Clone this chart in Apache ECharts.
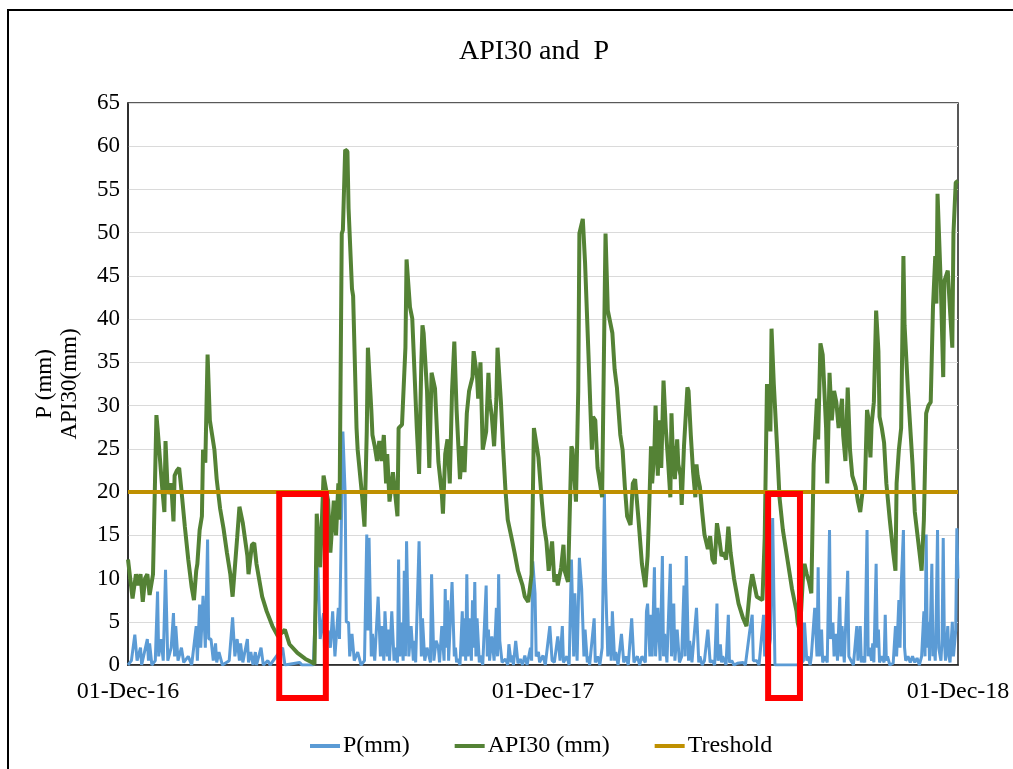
<!DOCTYPE html>
<html>
<head>
<meta charset="utf-8">
<title>API30 and P</title>
<script src="https://cdn.jsdelivr.net/npm/echarts@6/dist/echarts.min.js"></script>
<style>
  html, body { margin: 0; padding: 0; background: #fff; }
  #chart { width: 1013px; height: 769px; }
</style>
</head>
<body>
<div id="chart"></div>
<script>
// Day offsets are counted from 01-Dec-2016 (day 0) to 01-Dec-2018 (day 730).
const tickLabels = ['01-Dec-16', '01-Dec-17', '01-Dec-18'];
const dayRange = [0, 730];
const thresholdValue = 20;

// Highlighted dry spells [startDay, endDay]
const highlightPeriods = [[133, 174], [563, 591]];

// Daily precipitation P (mm): [day, mm]
const precipitation = [
  [0,0],[3,0.5],[6,3.5],[8,0.5],[11,2],[12,0],[17,3],[18,0.5],[19,2.5],[21,0],[24,0.5],[26,8.5],[27,1],[29,3],[31,0.5],
  [33,11],[35,0.5],[38,2],[40,6],[41,1],[42,4.5],[44,0.5],[47,2],[49,0.3],[53,1],[56,0],[60,4.5],[61,0.5],[63,7],[64,2],
  [66,8],[68,2],[70,14.5],[71,3],[73,3],[75,0.5],[77,2.5],[78,0.3],[80,1.5],[83,0],[89,0.5],[92,5.5],[94,1],[96,3],[98,0.5],
  [99,2.5],[101,0.3],[105,3],[106,0.3],[108,1.5],[110,0],[112,1.5],[113,0],[117,2],[119,0],[123,0.5],[125,0],[136,2],[138,0],
  [151,0.3],[153,0],[163,0],[165,7],[167,11.3],[169,3],[172,6],[173,1],[176,4],[178,2],[180,6.2],[182,1],[185,6.6],[186,3],
  [189,27],[191,19.8],[192,5],[194,4.9],[195,1],[197,3.6],[199,0.5],[202,1.5],[205,0],[208,0.5],[210,15.1],[211,4],[212,14.7],
  [214,1],[215,3.6],[217,0.5],[220,7.9],[222,1],[223,4.5],[225,0.5],[226,6.2],[228,1],[229,4.1],[230,0.5],[232,6.2],[234,0.5],
  [235,2],[237,0.3],[238,12.2],[239,1],[240,4.9],[242,0.5],[243,10.9],[244,1],[245,14.3],[247,1],[249,4.5],[251,0.5],[252,2.8],
  [253,0.3],[256,14.3],[258,1],[259,5.4],[261,0.5],[263,2],[266,0.3],[267,10.5],[269,0.5],[271,2.8],[273,2],[274,0.3],[276,4.5],
  [278,0.5],[279,8.8],[280,2],[281,7.5],[282,0.5],[285,9.6],[287,1],[288,2],[289,0.3],[290,0.7],[292,0],[294,6.2],[295,1],
  [296,5.4],[297,0.5],[298,10.5],[299,1],[300,5.4],[302,0.5],[303,7.5],[304,2],[305,9.6],[306,1],[307,5.4],[309,0.3],[310,1.1],
  [312,0],[315,9.2],[316,1],[317,4.1],[318,0.5],[320,3.3],[322,0.5],[324,6.6],[325,1],[326,10.5],[327,2.8],[329,0.3],[332,0.7],
  [334,0],[335,2.4],[337,0.3],[338,1.1],[339,0],[341,2.8],[343,0.2],[345,0.7],[347,0],[349,1.1],[351,0],[354,2],[355,0.5],
  [356,12],[358,8.3],[359,1],[361,1.5],[362,0.3],[365,1.1],[367,0],[371,4.5],[373,0.5],[375,0.3],[378,3.3],[380,0.5],[382,4.5],
  [383,0.3],[386,1],[388,0],[390,12.2],[392,1],[393,8.3],[395,0.5],[397,12.4],[399,8.8],[401,1],[402,4.1],[404,0.3],[405,1],
  [406,0],[410,5.4],[411,0.3],[413,1],[415,0],[417,2],[419,19.8],[420,10],[421,5.4],[422,1],[424,4.5],[425,0.5],[426,6.2],
  [428,0.5],[429,1.5],[431,0],[434,3.6],[436,0.3],[438,1],[440,0],[443,5.4],[445,0.3],[448,1],[450,0],[452,1],[455,0.3],
  [456,6.2],[457,7.1],[459,1],[460,5.8],[461,1],[463,11.3],[464,1],[466,6.6],[468,0.5],[470,12.6],[471,1],[472,3.6],[474,0.3],
  [477,11.7],[478,1],[480,7.1],[481,0.5],[483,4.1],[485,0.3],[487,1],[489,9.2],[490,1],[491,12.6],[493,0.5],[494,2.8],[496,0.3],
  [500,6.6],[502,0.3],[503,1],[505,0],[507,0.5],[510,4.1],[512,0.3],[514,0.5],[516,0],[518,7.1],[519,0.5],[521,2.4],[522,0.3],
  [523,1],[526,0],[528,5.8],[529,0.3],[531,0.5],[533,0],[536,0.2],[541,0.3],[543,0],[547,4.1],[549,5.8],[550,0.5],[553,0.5],
  [555,0],[559,5.8],[560,1],[561,2],[562,0.3],[565,3],[567,17],[569,0],[591,0],[594,0.5],[595,4.9],[597,0.5],[598,1],[600,0],
  [601,1],[604,6.6],[606,1],[607,11.3],[608,1],[610,4.1],[611,0.3],[613,1],[615,0.3],[617,15.6],[618,3],[620,4.9],[621,1],
  [623,3.6],[624,0.5],[626,7.9],[627,1],[628,4.5],[630,0.3],[633,10.9],[634,1],[636,0.5],[638,0],[641,4.5],[642,0.5],[644,4.5],
  [645,0.3],[646,1],[648,0.3],[650,15.6],[651,1],[652,2],[654,0.5],[655,2.5],[656,0.3],[658,11.7],[659,2],[660,4.1],[661,0.3],
  [663,1],[665,0.3],[666,5.8],[667,0.5],[668,1],[670,0],[673,0.2],[675,4.5],[676,1],[678,7.5],[679,2],[680,9],[682,15.6],
  [683,2],[684,0.5],[686,1],[688,0.3],[690,1],[692,0.3],[694,0.8],[696,0],[698,1],[700,6.2],[701,1],[702,15.1],[703,2],[704,5],
  [705,0.5],[707,11.7],[708,1],[709,2],[710,0.5],[711,7.1],[712,15.6],[713,2],[715,0.5],[716,3],[717,14.7],[718,3],[719,0.5],
  [721,4.5],[722,1],[723,0.3],[725,5],[726,1],[728,4],[729,15.8],[730,10]
];

// Antecedent precipitation index over 30 days, API30 (mm): [day, mm]
const api30 = [
  [0,12.2],[4,7.7],[7,10.5],[9,9.2],[11,10.5],[13,7.3],[15,10],[17,10.5],[19,8.1],[22,10.5],[25,28.9],[26,27.4],[30,20.6],
  [32,17.7],[33,25.9],[35,19.8],[38,21],[40,16.6],[41,21.9],[43,22.5],[45,22.8],[47,20.2],[50,16],[53,12.2],[56,9],[58,7.5],
  [60,10.9],[61,11.7],[63,15.6],[65,17.2],[66,24.9],[68,23.4],[70,35.9],[72,28.3],[74,26.6],[76,24.9],[78,21.5],[81,18.1],
  [84,15.8],[87,13],[90,10.5],[92,7.9],[96,14.7],[98,18.3],[101,16.4],[105,12.6],[106,10.5],[109,13.9],[111,14.1],[113,11.7],
  [118,7.9],[122,6.2],[127,4.5],[132,3.3],[138,4.1],[142,2.4],[149,1.4],[156,0.7],[162,0.3],[164,0.1],[165,7.9],[166,17.5],
  [169,11.3],[172,21.9],[173,22.1],[176,19],[178,13],[181,19],[183,15],[185,21],[186,16.8],[188,49.9],[189,50.3],[191,59.6],
  [193,59.4],[194,52.8],[197,43.5],[198,42.7],[201,27.4],[202,24.9],[206,19.4],[208,16],[210,27],[211,36.7],[214,29.5],
  [215,26.6],[217,25.3],[219,23.6],[221,25.9],[223,23.6],[225,26.6],[227,21],[228,24.4],[230,18.9],[233,22.3],[235,19.8],
  [237,17.2],[238,27.4],[241,27.8],[244,36.7],[245,46.9],[248,41.4],[250,40.1],[252,33.8],[254,27.4],[256,22.1],[258,35],
  [259,39.3],[260,38.4],[263,31.7],[265,22.8],[267,33.8],[270,32],[273,23.5],[276,19.8],[277,17.5],[279,24.4],[281,26.1],
  [283,21],[285,31.7],[287,37.4],[289,29.5],[292,21.5],[294,25.3],[296,22.3],[298,29.1],[300,31.7],[303,33.3],[304,36.3],
  [307,33.3],[308,30.8],[310,35],[312,24.9],[315,27],[317,33.8],[318,30.8],[320,28.7],[322,25.3],[324,30.8],[325,36.7],
  [328,30.4],[330,24.9],[332,20.2],[334,16.8],[338,14.3],[340,13],[343,10.9],[347,9.2],[349,7.9],[352,7.3],[355,10.5],
  [357,27.4],[360,24.9],[361,24],[364,18.9],[366,16],[368,14.3],[370,10.9],[373,14.3],[375,9.6],[377,10.5],[378,9.2],
  [381,11.3],[383,13.9],[384,10.9],[387,9.6],[390,25.3],[391,24.9],[394,18.9],[396,31.7],[397,49.9],[400,51.6],[402,46.5],
  [405,35.9],[408,24.9],[409,28.7],[411,28.3],[413,22.8],[417,19.4],[419,40.1],[420,49.9],[422,41],[424,39.7],[426,38.4],
  [428,34.2],[430,32.1],[433,26.6],[435,24.9],[437,20.6],[439,17.2],[442,16.2],[444,21],[446,21.5],[449,16.8],[452,11.7],
  [455,9],[456,9.2],[457,12.6],[458,16.4],[460,25.3],[461,21],[463,24.9],[464,30],[466,21.9],[467,28.3],[469,22.8],[471,32.9],
  [473,27.4],[475,23.6],[477,19.4],[478,29.1],[479,25.3],[481,21.5],[483,26.1],[484,23.2],[486,21.9],[487,18.5],[489,25.3],
  [492,32.1],[493,31.7],[495,26.6],[497,22.3],[499,19.4],[500,23.2],[501,21.9],[503,20.6],[505,17.7],[507,15.1],[510,13.4],
  [512,14.9],[514,12.2],[516,11.7],[518,16.4],[520,14.7],[522,12.6],[524,13],[526,12.2],[528,16],[530,13],[533,10],[537,7.1],
  [541,5.4],[544,4.5],[547,8.8],[549,10.5],[551,9.2],[553,7.9],[558,7.5],[560,14.7],[562,32.5],[564,30.8],[565,27],[566,38.9],
  [568,32.5],[571,24.9],[573,19.4],[576,15.6],[580,12.2],[584,8.8],[588,6.2],[589,4.9],[591,3.8],[594,11],[595,11.7],
  [597,10.5],[599,9.6],[601,8.3],[603,23.2],[606,30.8],[607,26.1],[609,37.2],[611,35.9],[614,27.4],[615,21],[617,33.8],
  [619,28.3],[621,31.7],[623,30.4],[625,27.4],[628,30.8],[629,26.6],[631,23.6],[633,32.1],[635,24.9],[637,21.9],[640,20.6],
  [642,18.9],[644,17.7],[646,20],[648,20.2],[650,29.5],[651,28.7],[653,24],[654,27.8],[656,30.4],[658,41],[660,36.3],
  [661,28.7],[663,27.4],[665,25.7],[667,21],[670,16.8],[673,13],[675,10.9],[676,21],[678,24.9],[680,27.4],[682,47.3],
  [683,39.3],[686,31.7],[690,23.2],[692,17.7],[695,14.3],[698,10.9],[700,16.8],[702,29.1],[704,30],[706,30.4],[708,41.4],
  [710,47.3],[711,41.8],[712,54.5],[715,43.5],[717,33.3],[718,44.4],[721,45.6],[723,41],[725,36.7],[726,49.9],[728,55.8],
  [730,56]
];

const serifFont = '"Liberation Serif", "Times New Roman", serif';

const chart = echarts.init(document.getElementById('chart'), null, { renderer: 'canvas' });

const option = {
  animation: false,
  backgroundColor: '#fff',
  title: {
    text: 'API30 and  P',
    left: 454,
    top: 33,
    textStyle: { fontFamily: serifFont, fontSize: 28, fontWeight: 'normal', color: '#000' }
  },
  grid: {
    left: 128, right: 55, top: 103, bottom: 104,
    show: true, borderColor: '#222', borderWidth: 1.5, backgroundColor: 'transparent'
  },
  legend: {
    left: 305,
    top: 729,
    icon: 'rect',
    itemWidth: 30,
    itemHeight: 4,
    itemGap: 45,
    textStyle: { fontFamily: serifFont, fontSize: 24, color: '#000', padding: [0, 0, 0, -2] },
    data: ['P(mm)', 'API30 (mm)', 'Treshold']
  },
  xAxis: {
    type: 'value',
    min: dayRange[0],
    max: dayRange[1],
    interval: 365,
    axisLine: { show: true, lineStyle: { color: '#222', width: 1.5 } },
    axisTick: { show: false },
    splitLine: { show: false },
    axisLabel: {
      fontFamily: serifFont, fontSize: 24, color: '#000', margin: 15,
      showMinLabel: true, showMaxLabel: true,
      formatter: v => tickLabels[Math.round(v / 365)] || ''
    }
  },
  yAxis: {
    type: 'value',
    min: 0,
    max: 65,
    interval: 5,
    name: 'P (mm)\nAPI30(mm)',
    nameLocation: 'middle',
    nameGap: 46,
    nameRotate: 90,
    nameTextStyle: { fontFamily: serifFont, fontSize: 23, color: '#000', lineHeight: 25 },
    axisLine: { show: true, lineStyle: { color: '#222', width: 1.5 } },
    axisTick: { show: false },
    splitLine: { show: true, lineStyle: { color: '#dadada', width: 1 } },
    axisLabel: { fontFamily: serifFont, fontSize: 23, color: '#000', margin: 8 }
  },
  series: [
    {
      name: 'P(mm)',
      type: 'line',
      data: precipitation,
      symbol: 'none',
      color: '#5b9bd5',
      lineStyle: { color: '#5b9bd5', width: 3 },
      z: 2
    },
    {
      name: 'API30 (mm)',
      type: 'line',
      data: api30,
      symbol: 'none',
      color: '#548235',
      lineStyle: { color: '#548235', width: 4 },
      z: 3
    },
    {
      name: 'Treshold',
      type: 'line',
      data: dayRange.map(d => [d, thresholdValue]),
      symbol: 'none',
      color: '#bf9000',
      lineStyle: { color: '#bf9000', width: 4 },
      z: 4
    }
  ]
};

chart.setOption(option);

// Outer frame and red boxes around the highlighted periods, placed through the axes' scales
const baseY = chart.convertToPixel({ gridIndex: 0 }, [0, 0])[1];
const boxes = highlightPeriods.map(([d0, d1]) => {
  const p0 = chart.convertToPixel({ gridIndex: 0 }, [d0, thresholdValue]);
  const p1 = chart.convertToPixel({ gridIndex: 0 }, [d1, 0]);
  return {
    type: 'rect',
    z: 100,
    shape: { x: p0[0], y: p0[1] + 2, width: p1[0] - p0[0], height: baseY + 33 - p0[1] - 2 },
    style: { fill: 'none', stroke: '#ff0000', lineWidth: 6 }
  };
});

chart.setOption({
  graphic: [
    {
      type: 'rect',
      z: 100,
      shape: { x: 8, y: 10, width: 1200, height: 900 },
      style: { fill: 'none', stroke: '#000', lineWidth: 2 }
    },
    ...boxes
  ]
});
</script>
</body>
</html>
